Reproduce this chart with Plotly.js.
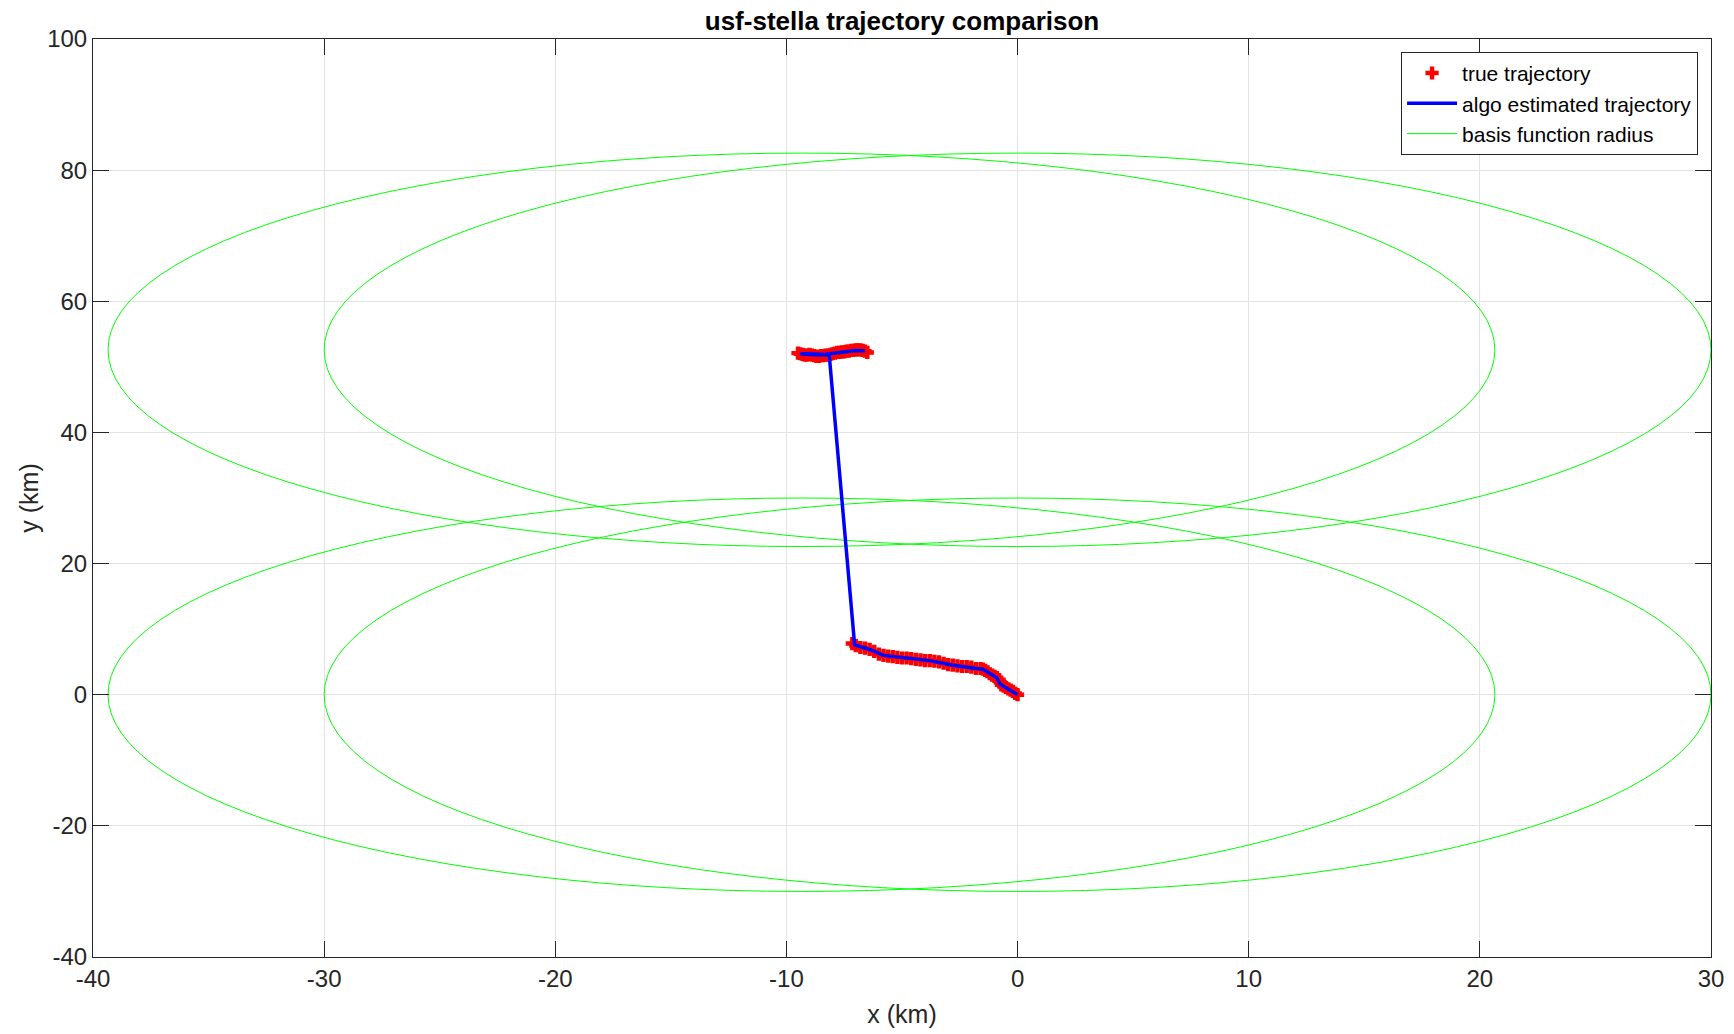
<!DOCTYPE html>
<html>
<head>
<meta charset="utf-8">
<script src="https://cdn.plot.ly/plotly-3.0.1.min.js"></script>
<style>html,body{margin:0;padding:0;background:#fff;}#chart{width:1734px;height:1034px;}</style>
</head>
<body>
<div id="chart"></div>
<script>
// true trajectory (km)
const trueLowX = [0, -0.1, -0.2, -0.3, -0.4, -0.5, -0.6, -0.7, -0.75, -0.8, -0.9, -1.0, -1.1, -1.2, -1.3, -1.4, -1.5, -1.6, -1.8, -2.0, -2.2, -2.4, -2.6, -2.8, -3.0, -3.2, -3.4, -3.6, -3.8, -4.0, -4.2, -4.4, -4.6, -4.8, -5.0, -5.2, -5.4, -5.6, -5.8, -6.0, -6.2, -6.4, -6.6, -6.8, -7.0, -7.15];
const trueLowY = [0.0, 0.2, 0.5, 0.7, 0.9, 1.1, 1.3, 1.5, 1.9, 2.3, 2.6, 2.8, 3.0, 3.2, 3.5, 3.7, 3.9, 4.0, 4.0, 4.2, 4.3, 4.3, 4.4, 4.5, 4.6, 4.8, 5.0, 5.1, 5.2, 5.2, 5.3, 5.4, 5.5, 5.6, 5.6, 5.7, 5.8, 5.9, 6.0, 6.2, 6.6, 6.9, 7.1, 7.2, 7.5, 7.8];
const trueUpX = [-9.5, -9.4, -9.3, -9.2, -9.1, -9.0, -8.9, -8.8, -8.7, -8.6, -8.5, -8.4, -8.3, -8.2, -8.1, -8.0, -7.9, -7.8, -7.7, -7.6, -7.5, -7.4, -7.3, -7.2, -7.1, -7.0, -6.9, -6.8, -6.7, -6.6, -6.5];
const trueUpY = [52.1, 52.0, 51.9, 51.8, 51.8, 51.9, 51.8, 51.7, 51.6, 51.6, 51.7, 51.7, 51.8, 51.8, 51.9, 52.0, 52.1, 52.2, 52.2, 52.3, 52.3, 52.4, 52.4, 52.5, 52.5, 52.6, 52.6, 52.6, 52.5, 52.4, 52.2];

// algo estimated trajectory (km)
const algoX = [0, -0.4, -0.75, -0.9, -1.5, -1.8, -2.8, -3.8, -5.0, -5.8, -6.4, -7.05, -8.15, -8.6, -9.0, -9.4, -9.0, -8.4, -8.0, -7.4, -7.0, -6.6];
const algoY = [0.0, 0.9, 1.6, 2.6, 3.9, 4.0, 4.5, 5.2, 5.6, 6.0, 6.9, 7.6, 51.9, 51.8, 51.9, 52.0, 52.0, 51.9, 52.1, 52.3, 52.5, 52.4];

// basis function centres (km) and radius (km)
const centreX = [-9.35, 0, -9.35, 0];
const centreY = [52.6, 52.6, 0, 0];
const basisRadius = 30;

const xTicks = [-40, -30, -20, -10, 0, 10, 20, 30];
const yTicks = [-40, -20, 0, 20, 40, 60, 80, 100];

const FONT = '"Liberation Sans", Arial, sans-serif';
const INK = '#262626';

const traces = [
  {
    x: trueLowX.concat([null], trueUpX),
    y: trueLowY.concat([null], trueUpY),
    mode: 'markers', type: 'scatter', name: 'true trajectory',
    marker: {symbol: 'cross', size: 11, color: '#ff0000', line: {width: 0}}
  },
  {
    x: algoX, y: algoY, mode: 'lines', type: 'scatter',
    name: 'algo estimated trajectory',
    line: {color: '#0000ff', width: 3.5}
  },
  {
    // legend entry for the basis-function circles (drawn as shapes below)
    x: [null], y: [null], mode: 'lines', type: 'scatter',
    name: 'basis function radius',
    line: {color: '#00ff00', width: 1}
  }
];

const shapes = centreX.map((cx, i) => ({
  type: 'circle', xref: 'x', yref: 'y',
  x0: cx - basisRadius, x1: cx + basisRadius,
  y0: centreY[i] - basisRadius, y1: centreY[i] + basisRadius,
  line: {color: '#00ff00', width: 1},
  layer: 'between'
}));

const axisCommon = {
  showline: true, linecolor: INK, linewidth: 1, mirror: 'ticks',
  ticks: 'inside', ticklen: 16, tickcolor: INK, tickwidth: 1,
  showgrid: true, gridcolor: '#e3e3e3', gridwidth: 1,
  zeroline: false,
  tickfont: {family: FONT, size: 24, color: INK},
  tickmode: 'array'
};

const layout = {
  width: 1734, height: 1034,
  margin: {l: 93, r: 23, t: 39, b: 77},
  paper_bgcolor: '#ffffff', plot_bgcolor: '#ffffff',
  font: {family: FONT, color: INK},
  title: {text: '<b>usf-stella trajectory comparison</b>', font: {family: FONT, size: 26, color: '#000'},
          x: 0.5, xanchor: 'center', y: 0.98, yanchor: 'middle', xref: 'paper'},
  xaxis: Object.assign({}, axisCommon, {
    range: [-40, 30], tickvals: xTicks, ticktext: xTicks.map(String),
    title: {text: 'x (km)', font: {family: FONT, size: 25, color: INK}, standoff: 14}
  }),
  yaxis: Object.assign({}, axisCommon, {
    range: [-40, 100], tickvals: yTicks, ticktext: yTicks.map(String),
    title: {text: 'y (km)', font: {family: FONT, size: 25, color: INK}, standoff: 1}
  }),
  shapes: shapes,
  showlegend: true,
  legend: {
    x: 0.992, xanchor: 'right', y: 0.986, yanchor: 'top',
    bgcolor: '#ffffff', bordercolor: INK, borderwidth: 1,
    font: {family: FONT, size: 21, color: '#000'},
    itemwidth: 50, tracegroupgap: 0
  }
};

Plotly.newPlot('chart', traces, layout, {displayModeBar: false, staticPlot: true});
</script>
</body>
</html>
